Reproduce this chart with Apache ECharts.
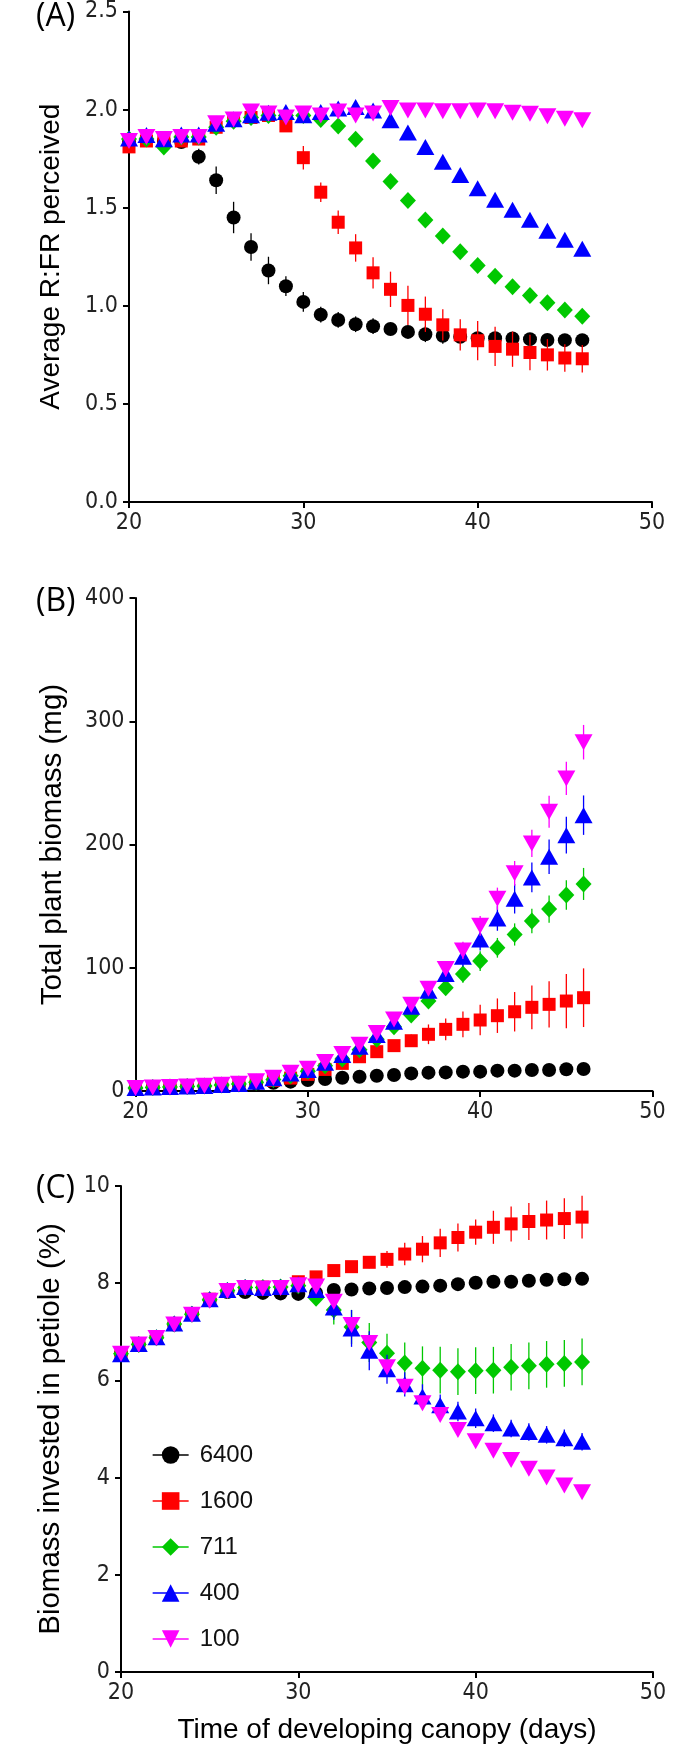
<!DOCTYPE html>
<html><head><meta charset="utf-8">
<script src="https://cdn.jsdelivr.net/npm/echarts@6/dist/echarts.min.js"></script>
<style>html,body{margin:0;padding:0;background:#fff}#c{width:700px;height:1748px}</style>
</head><body><div id="c"></div>
<script>
const days = [20,21,22,23,24,25,26,27,28,29,30,31,32,33,34,35,36,37,38,39,40,41,42,43,44,45,46];
const seriesNames = ['6400','1600','711','400','100'];
const xTicks = [20,30,40,50];

// Panel A: Average R:FR perceived
const rfr6400 = [1.84,1.85,1.84,1.835,1.76,1.64,1.45,1.30,1.18,1.10,1.02,0.955,0.928,0.906,0.896,0.882,0.867,0.855,0.847,0.842,0.835,0.835,0.833,0.830,0.826,0.825,0.825];
const rfr6400Err = [0.01,0.01,0.01,0.02,0.04,0.07,0.08,0.07,0.07,0.05,0.05,0.04,0.04,0.04,0.04,0.03,0.03,0.04,0.04,0.03,0.03,0.03,0.03,0.03,0.03,0.02,0.02];
const rfr1600 = [1.81,1.84,1.85,1.84,1.85,1.91,1.95,1.96,1.97,1.917,1.755,1.579,1.426,1.295,1.168,1.084,1.002,0.957,0.903,0.852,0.822,0.793,0.779,0.762,0.750,0.734,0.730];
const rfr1600Err = [0.01,0.01,0.01,0.01,0.01,0.02,0.02,0.02,0.02,0.03,0.06,0.05,0.06,0.07,0.08,0.09,0.10,0.09,0.08,0.08,0.10,0.10,0.09,0.09,0.08,0.07,0.07];
const rfr711 = [1.85,1.85,1.81,1.86,1.86,1.91,1.94,1.96,1.97,1.97,1.97,1.95,1.917,1.849,1.738,1.633,1.537,1.437,1.356,1.275,1.205,1.151,1.097,1.053,1.016,0.979,0.947];
const rfr711Err = [0.02,0.02,0.02,0.02,0.02,0.02,0.02,0.02,0.02,0.02,0.02,0.02,0.03,0.03,0.03,0.03,0.02,0.02,0.02,0.02,0.02,0.02,0.02,0.02,0.02,0.02,0.02];
const rfr400 = [1.853,1.870,1.849,1.873,1.873,1.928,1.951,1.971,1.984,1.988,1.971,1.988,2.005,2.013,1.996,1.946,1.883,1.81,1.734,1.667,1.599,1.540,1.489,1.439,1.383,1.337,1.291];
const rfr400Err = [0.01,0.01,0.01,0.01,0.01,0.02,0.02,0.02,0.02,0.02,0.02,0.02,0.02,0.02,0.02,0.02,0.02,0.02,0.02,0.02,0.02,0.02,0.02,0.02,0.02,0.02,0.02];
const rfr100 = [1.84,1.86,1.85,1.86,1.86,1.93,1.95,1.99,1.98,1.96,1.98,1.97,1.99,1.97,1.98,2.008,1.996,1.996,1.991,1.991,1.996,1.991,1.984,1.979,1.966,1.954,1.946];
const rfr100Err = [0.01,0.01,0.01,0.02,0.02,0.02,0.02,0.02,0.02,0.02,0.02,0.02,0.02,0.02,0.02,0.01,0.01,0.01,0.01,0.01,0.01,0.01,0.01,0.01,0.01,0.01,0.01];
const rfrTicks = [0,0.5,1.0,1.5,2.0,2.5];

// Panel B: Total plant biomass (mg)
const bio6400 = [2.5,2.8,3.2,3.6,4.1,4.6,5.2,6.0,6.6,7.6,8.9,9.7,10.8,11.6,12.4,13.0,14.3,14.9,15.1,15.7,15.7,16.5,16.5,17.0,17.0,17.6,17.8];
const bio6400Err = [0.2,0.2,0.2,0.3,0.3,0.3,0.4,0.4,0.5,0.5,0.6,0.6,0.7,0.7,0.8,0.8,0.9,0.9,1,1,1,1.1,1.1,1.2,1.2,1.3,1.3];
const bio1600 = [2.5,2.8,3.2,3.6,4.1,4.7,5.4,6.8,8.5,10.5,13.5,17.5,22.4,27.8,31.9,36.8,40.8,46.0,50.0,54.1,57.6,61.1,64.3,67.9,70.3,73.0,75.7];
const bio1600Err = [0.2,0.2,0.3,0.3,0.3,0.4,0.5,0.6,0.8,1,1.3,1.6,2,2.5,3,4,5,8,8.8,10.5,12.4,14,16,17.7,18.7,22,23.8];
const bio711 = [2.5,2.8,3.2,3.6,4.1,4.8,5.6,7.2,9.3,12.3,16,20.5,26,33.5,42,52.2,61.6,73,83.8,94.9,105.4,116.2,127,137.9,147.6,159,168];
const bio711Err = [0.2,0.2,0.3,0.3,0.3,0.4,0.5,0.6,0.8,1,1.3,1.6,2,2.5,3,4,4.5,5,6,7,8,8,9,10,11,12,13];
const bio400 = [2.5,2.8,3.2,3.6,4.1,4.8,5.6,7.6,10.3,14.3,17,23,29.2,35.9,45.4,56.2,68.4,81.4,94.9,109,123,140,156,173.3,190,207.6,223.8];
const bio400Err = [0.2,0.2,0.3,0.3,0.3,0.4,0.5,0.6,0.8,1,1.3,1.6,2,2.5,3,4,4.5,5.5,6.5,8,9,10,12,12,14,15,16];
const bio100 = [2.5,2.9,3.3,3.7,4.2,5.0,5.9,7.9,10.8,14.8,18,23.5,30,37.5,47,58,70,83,99,114,134,156,176.6,200.9,226.5,253.6,283];
const bio100Err = [0.2,0.2,0.3,0.3,0.3,0.4,0.5,0.6,0.8,1,1.3,1.6,2,2.5,3,4,4.5,5.5,6,7,8,9,10,11,13,13.5,14];
const bioTicks = [0,100,200,300,400];

// Panel C: Biomass invested in petiole (%)
const pet6400 = [6.55,6.75,6.89,7.15,7.37,7.65,7.82,7.82,7.80,7.79,7.78,7.80,7.86,7.87,7.89,7.90,7.92,7.93,7.95,7.98,8.01,8.03,8.03,8.05,8.07,8.08,8.09];
const pet6400Err = [0.05,0.05,0.05,0.05,0.05,0.05,0.05,0.05,0.05,0.05,0.05,0.05,0.05,0.05,0.05,0.05,0.05,0.05,0.05,0.05,0.05,0.05,0.05,0.05,0.05,0.05,0.05];
const pet1600 = [6.55,6.75,6.89,7.17,7.37,7.67,7.86,7.92,7.92,7.93,8.03,8.13,8.26,8.34,8.43,8.49,8.60,8.70,8.83,8.94,9.05,9.15,9.22,9.27,9.30,9.33,9.36];
const pet1600Err = [0.05,0.05,0.05,0.05,0.05,0.05,0.05,0.05,0.05,0.05,0.1,0.1,0.1,0.1,0.12,0.17,0.23,0.27,0.29,0.29,0.26,0.34,0.36,0.38,0.4,0.42,0.44];
const pet711 = [6.55,6.74,6.88,7.16,7.36,7.66,7.85,7.91,7.91,7.92,7.95,7.69,7.45,7.10,6.78,6.56,6.36,6.25,6.21,6.18,6.20,6.21,6.27,6.30,6.33,6.35,6.38];
const pet711Err = [0.05,0.05,0.05,0.05,0.05,0.05,0.05,0.05,0.05,0.05,0.05,0.15,0.3,0.35,0.4,0.4,0.42,0.45,0.48,0.48,0.48,0.48,0.48,0.48,0.48,0.48,0.48];
const pet400 = [6.54,6.75,6.89,7.17,7.37,7.67,7.86,7.92,7.90,7.92,7.98,7.86,7.50,7.07,6.61,6.23,5.92,5.67,5.49,5.36,5.22,5.12,5.01,4.94,4.88,4.81,4.74];
const pet400Err = [0.05,0.05,0.05,0.05,0.05,0.05,0.05,0.05,0.05,0.05,0.05,0.1,0.25,0.38,0.4,0.3,0.25,0.25,0.22,0.2,0.2,0.18,0.18,0.18,0.18,0.18,0.18];
const pet100 = [6.55,6.74,6.87,7.15,7.35,7.64,7.84,7.90,7.89,7.90,7.96,7.93,7.62,7.14,6.77,6.27,5.87,5.53,5.29,4.98,4.75,4.55,4.36,4.18,4.00,3.84,3.70];
const pet100Err = [0.05,0.05,0.05,0.05,0.05,0.05,0.05,0.05,0.05,0.05,0.05,0.1,0.12,0.12,0.12,0.12,0.12,0.12,0.12,0.1,0.1,0.1,0.1,0.1,0.1,0.1,0.1];
const petTicks = [0,2,4,6,8,10];

const colors = ['#000000','#ff0000','#00c800','#0000ff','#ff00ff'];
const symbols = ['circle','rect','diamond','triangle','triangle'];
const rotates = [0,0,0,0,180];
const sizes = [14,13,[16,17],[18,16],[18,16]];

const panels = [
  {vals:[rfr6400,rfr1600,rfr711,rfr400,rfr100], errs:[rfr6400Err,rfr1600Err,rfr711Err,rfr400Err,rfr100Err]},
  {vals:[bio6400,bio1600,bio711,bio400,bio100], errs:[bio6400Err,bio1600Err,bio711Err,bio400Err,bio100Err]},
  {vals:[pet6400,pet1600,pet711,pet400,pet100], errs:[pet6400Err,pet1600Err,pet711Err,pet400Err,pet100Err]}
];

const tickFont = "'Liberation Sans Narrow','DejaVu Sans Condensed','Liberation Sans',sans-serif";
const titleFont = "'Liberation Sans',Arial,sans-serif";

const grids = [
  {left:129, width:523, top:9, height:493},
  {left:135.5, width:517, top:598, height:493},
  {left:121, width:532, top:1186, height:486}
];

function xAx(i, showName){
  return {
    gridIndex:i, type:'value', min:xTicks[0], max:xTicks[xTicks.length-1], interval:10,
    axisLine:{show:true, lineStyle:{color:'#000', width:2}},
    axisTick:{show:true, length:6, lineStyle:{color:'#000', width:2}},
    axisLabel:{fontSize:23, color:'#222', fontFamily:tickFont, margin:10},
    splitLine:{show:false},
    name: showName ? 'Time of developing canopy (days)' : '',
    nameLocation:'middle', nameGap:44,
    nameTextStyle:{fontSize:28, color:'#000', fontFamily:titleFont}
  };
}
function yAx(i, ticks, name, gap, fmt, fs){
  return {
    gridIndex:i, type:'value', min:ticks[0], max:ticks[ticks.length-1], interval:ticks[1]-ticks[0],
    axisLine:{show:true, lineStyle:{color:'#000', width:2}},
    axisTick:{show:true, length:6, lineStyle:{color:'#000', width:2}},
    axisLabel:{fontSize:23, color:'#222', fontFamily:tickFont, margin:11, formatter:fmt},
    splitLine:{show:false},
    name:name, nameLocation:'middle', nameGap:gap,
    nameTextStyle:{fontSize:fs, color:'#000', fontFamily:titleFont}
  };
}

const series = [];
panels.forEach((p, gi) => {
  for (let s = 0; s < 5; s++) {
    const col = colors[s];
    series.push({
      type:'custom', xAxisIndex:gi, yAxisIndex:gi, silent:true, z:2+2*s,
      data: days.map((d,k)=>[d, p.vals[s][k], p.errs[s][k]]),
      renderItem:(params, api)=>{
        const x=api.value(0), y=api.value(1), e=api.value(2);
        const a=api.coord([x,y-e]), b=api.coord([x,y+e]);
        return {type:'line', shape:{x1:a[0],y1:a[1],x2:b[0],y2:b[1]}, style:{stroke:col, lineWidth:1.3}};
      }
    });
    series.push({
      type:'line', name:seriesNames[s], xAxisIndex:gi, yAxisIndex:gi, z:3+2*s,
      data: days.map((d,k)=>[d, p.vals[s][k]]),
      symbol:symbols[s], symbolSize:sizes[s], symbolRotate:rotates[s],
      showSymbol:true, showAllSymbol:true,
      itemStyle:{color:col, borderWidth:0},
      lineStyle:{width:0, opacity:0},
      emphasis:{disabled:true}, silent:true
    });
  }
});

const chart = echarts.init(document.getElementById('c'), null, {renderer:'canvas'});
chart.setOption({
  animation:false,
  backgroundColor:'#fff',
  grid:grids,
  xAxis:[xAx(0,false), xAx(1,false), xAx(2,true)],
  yAxis:[
    yAx(0, rfrTicks, 'Average R:FR perceived', 64, v=>v.toFixed(1), 28),
    yAx(1, bioTicks, 'Total plant biomass (mg)', 68, v=>String(v), 29.5),
    yAx(2, petTicks, 'Biomass invested in petiole (%)', 55, v=>String(v), 29.5)
  ],
  legend:{
    data:seriesNames, orient:'vertical', left:147, top:1437,
    itemWidth:36, itemHeight:22, itemGap:20, selectedMode:false,
    textStyle:{fontSize:24, color:'#111', fontFamily:titleFont, lineHeight:26, padding:[0,0,0,6]},
    lineStyle:{width:1.3, opacity:1}
  },
  graphic:[
    {type:'text', left:36, top:1, style:{text:'(A)', fontSize:32, fontFamily:"'Open Sans',sans-serif", fill:'#000'}},
    {type:'text', left:36, top:586, style:{text:'(B)', fontSize:32, fontFamily:"'Open Sans',sans-serif", fill:'#000'}},
    {type:'text', left:36, top:1173, style:{text:'(C)', fontSize:32, fontFamily:"'Open Sans',sans-serif", fill:'#000'}}
  ],
  series:series
});
</script></body></html>
